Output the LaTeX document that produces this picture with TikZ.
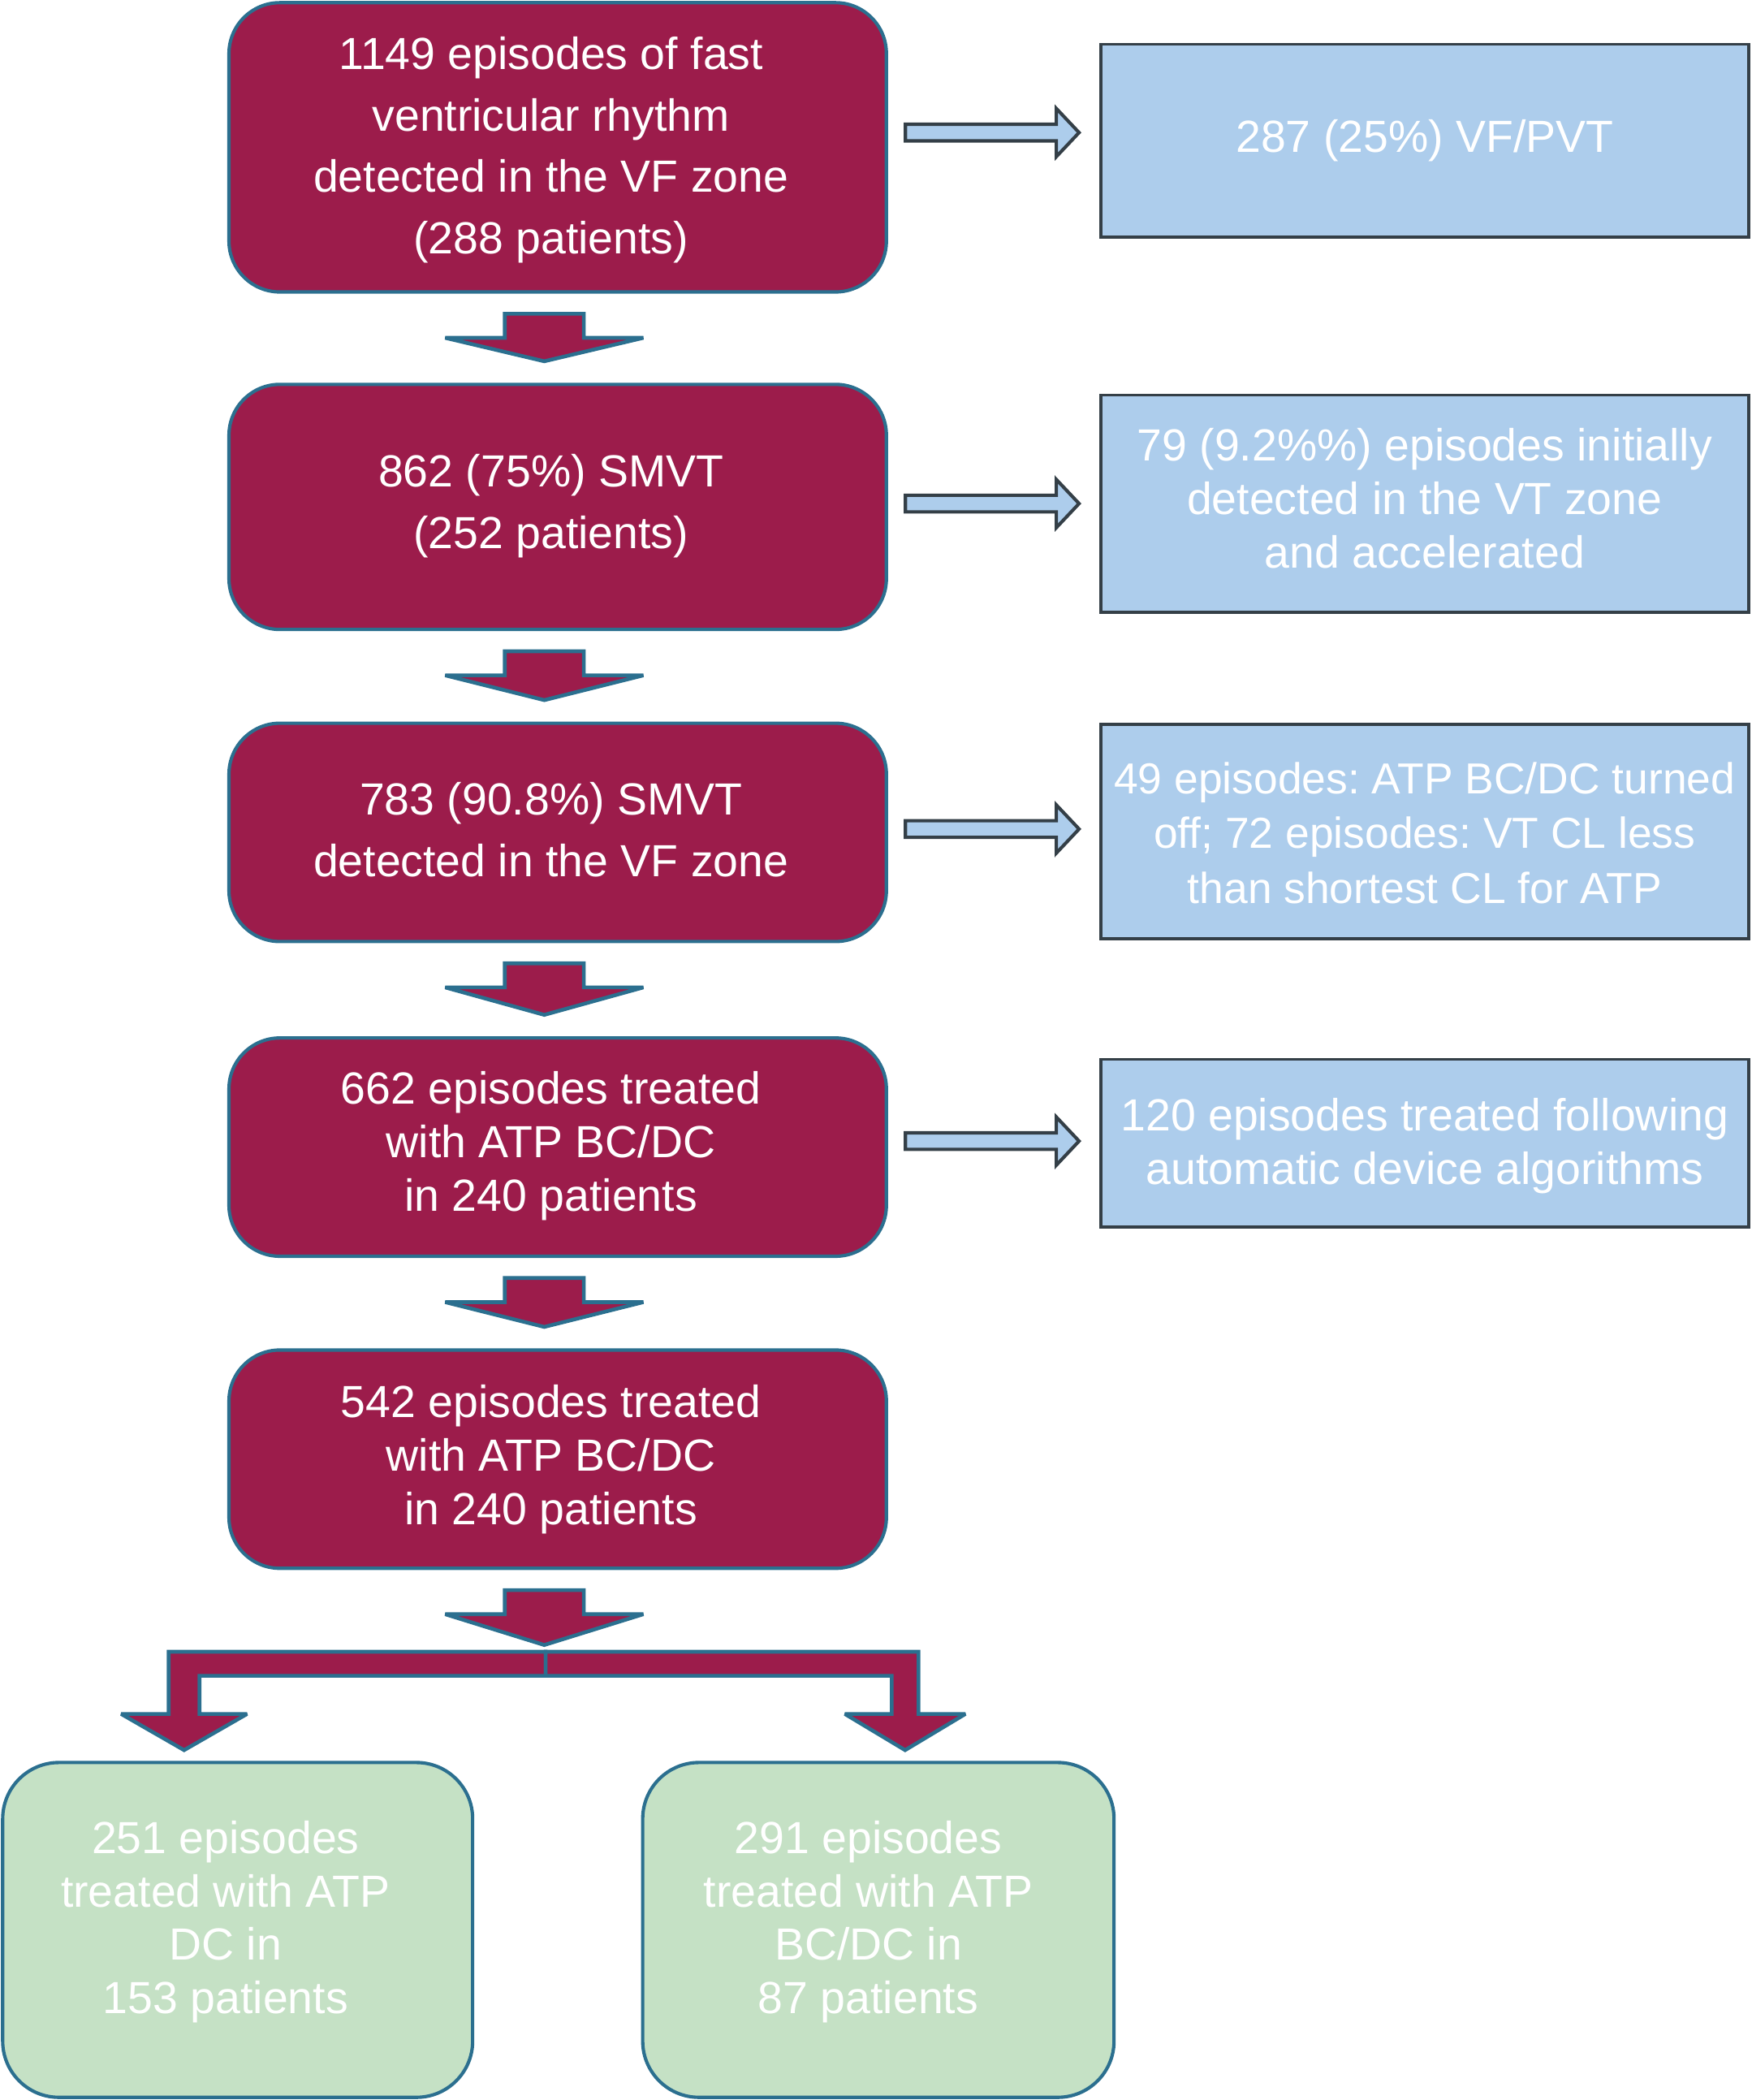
\documentclass[tikz,border=0pt]{standalone}
\usepackage{fontspec}
\setmainfont{Liberation Sans}
\usetikzlibrary{calc}
\definecolor{maroon}{HTML}{9C1C4B}
\definecolor{tealb}{HTML}{2B6F8F}
\definecolor{lblue}{HTML}{ADCDEC}
\definecolor{dgrey}{HTML}{343F47}
\definecolor{lgreen}{HTML}{C5E1C5}
\newcommand\rarr[3]{%
  \coordinate (s) at ($(#1.east |- #2.west)+(13,#3)$);
  \coordinate (e) at ($(#2.west)+(-15,#3)$);
  \draw[barrow] ($(s)+(0,-6.2)$) -- ($(e)+(-17,-6.2)$) -- ($(e)+(-17,-18)$) -- (e)
     -- ($(e)+(-17,18)$) -- ($(e)+(-17,6.2)$) -- ($(s)+(0,6.2)$) -- cycle;}
\newcommand\darr[2]{%
  \coordinate (t) at #1;
  \coordinate (p) at #2;
  \draw[marrow] ($(t)+(-29.5,0)$) -- ($(t)+(29.5,0)$) -- ($(t)+(29.5,18)$) -- ($(t)+(74,18)$)
     -- (p) -- ($(t)+(-74,18)$) -- ($(t)+(-29.5,18)$) -- cycle;}
\begin{document}
\frenchspacing
\begin{tikzpicture}[x=1pt,y=-1pt,
  mainbox/.style={draw=tealb,line width=2.5pt,fill=maroon,rounded corners=38pt,inner sep=0pt,minimum width=491pt},
  greenbox/.style={draw=tealb,line width=2.5pt,fill=lgreen,rounded corners=42pt,inner sep=0pt},
  bluebox/.style={draw=dgrey,line width=2.2pt,fill=lblue,inner sep=0pt,minimum width=484pt},
  wtext/.style={text=white,align=center,font=\fontsize{33.6}{46}\selectfont},
  wtextb/.style={text=white,align=center,font=\fontsize{33.6}{40}\selectfont},
  wtextc/.style={text=white,align=center,font=\fontsize{32.4}{41}\selectfont},
  barrow/.style={draw=dgrey,line width=2.5pt,fill=lblue,miter limit=3},
  marrow/.style={draw=tealb,line width=2.8pt,fill=maroon,miter limit=2.5}]
\useasboundingbox (0,0) rectangle (1308,1568);

% main column
\node[mainbox,minimum height=216pt,label={[wtext,xshift=-5pt,yshift=-2pt]center:{1149 episodes of fast\\ventricular rhythm\\detected in the VF zone\\(288 patients)}}] (b1) at (416.5,110) {};
\node[mainbox,minimum height=183pt,label={[wtext,xshift=-5pt,yshift=0.5pt]center:{862 (75\%) SMVT\\(252 patients)}}] (b2) at (416.5,378.5) {};
\node[mainbox,minimum height=163pt,label={[wtext,xshift=-5pt,yshift=2pt]center:{783 (90.8\%) SMVT\\detected in the VF zone}}] (b3) at (416.5,621.5) {};
\node[mainbox,minimum height=163pt,label={[wtextb,xshift=-5pt,yshift=1pt]center:{662 episodes treated\\with ATP BC/DC\\in 240 patients}}] (b4) at (416.5,856.5) {};
\node[mainbox,minimum height=163pt,label={[wtextb,xshift=-5pt,yshift=0pt]center:{542 episodes treated\\with ATP BC/DC\\in 240 patients}}] (b5) at (416.5,1089.5) {};

% right column
\node[bluebox,minimum height=144pt,label={[wtextb]center:{287 (25\%) VF/PVT}}] (r1) at (1064,105) {};
\node[bluebox,minimum height=162pt,label={[wtextb,yshift=4pt]center:{79 (9.2\%\%) episodes initially\\detected in the VT zone\\and accelerated}}] (r2) at (1064,376) {};
\node[bluebox,minimum height=160pt,label={[wtextc,yshift=-1pt]center:{49 episodes: ATP BC/DC turned\\off; 72 episodes: VT CL less\\than shortest CL for ATP}}] (r3) at (1064,621) {};
\node[bluebox,minimum height=125pt,label={[wtextb,yshift=-2pt]center:{120 episodes treated following\\automatic device algorithms}}] (r4) at (1064,853.5) {};

% green boxes
\node[greenbox,minimum width=351pt,minimum height=250pt,label={[wtextb,xshift=-9pt,yshift=6pt]center:{251 episodes\\treated with ATP\\DC in\\153 patients}}] (g1) at (177.5,1441) {};
\node[greenbox,minimum width=352pt,minimum height=250pt,label={[wtextb,xshift=-7.5pt,yshift=6pt]center:{291 episodes\\treated with ATP\\BC/DC in\\87 patients}}] (g2) at (656,1441) {};

% right arrows
\rarr{b1}{r1}{-6}
\rarr{b2}{r2}{0}
\rarr{b3}{r3}{-2}
\rarr{b4}{r4}{-1.5}

% down arrows
\darr{($(b1.south)+(-10,15)$)}{($(b2.north)+(-10,-16)$)}
\darr{($(b2.south)+(-10,15)$)}{($(b3.north)+(-10,-16)$)}
\darr{($(b3.south)+(-10,15)$)}{($(b4.north)+(-10,-16)$)}
\darr{($(b4.south)+(-10,15)$)}{($(b5.north)+(-10,-16)$)}

% split
\coordinate (sp) at ($(b5.south)+(-9,61)$);
\coordinate (lt) at ($(g1.north)+(-40,-8)$);
\coordinate (rt) at ($(g2.north)+(20,-8)$);
\darr{($(b5.south)+(-10,15)$)}{($(sp)+(-1,-5)$)}
\draw[marrow] let \p1=(sp), \p2=(lt) in
  (\x1,\y1) -- (\x2-11.5pt,\y1) -- (\x2-11.5pt,\y2+27pt) -- (\x2-47pt,\y2+27pt) -- (\x2,\y2)
  -- (\x2+47pt,\y2+27pt) -- (\x2+11.5pt,\y2+27pt) -- (\x2+11.5pt,\y1-18pt) -- (\x1,\y1-18pt) -- cycle;
\draw[marrow] let \p1=(sp), \p2=(rt) in
  (\x1,\y1) -- (\x2+10pt,\y1) -- (\x2+10pt,\y2+27pt) -- (\x2+45pt,\y2+27pt) -- (\x2,\y2)
  -- (\x2-45pt,\y2+27pt) -- (\x2-10pt,\y2+27pt) -- (\x2-10pt,\y1-18pt) -- (\x1,\y1-18pt) -- cycle;
\end{tikzpicture}
\end{document}
